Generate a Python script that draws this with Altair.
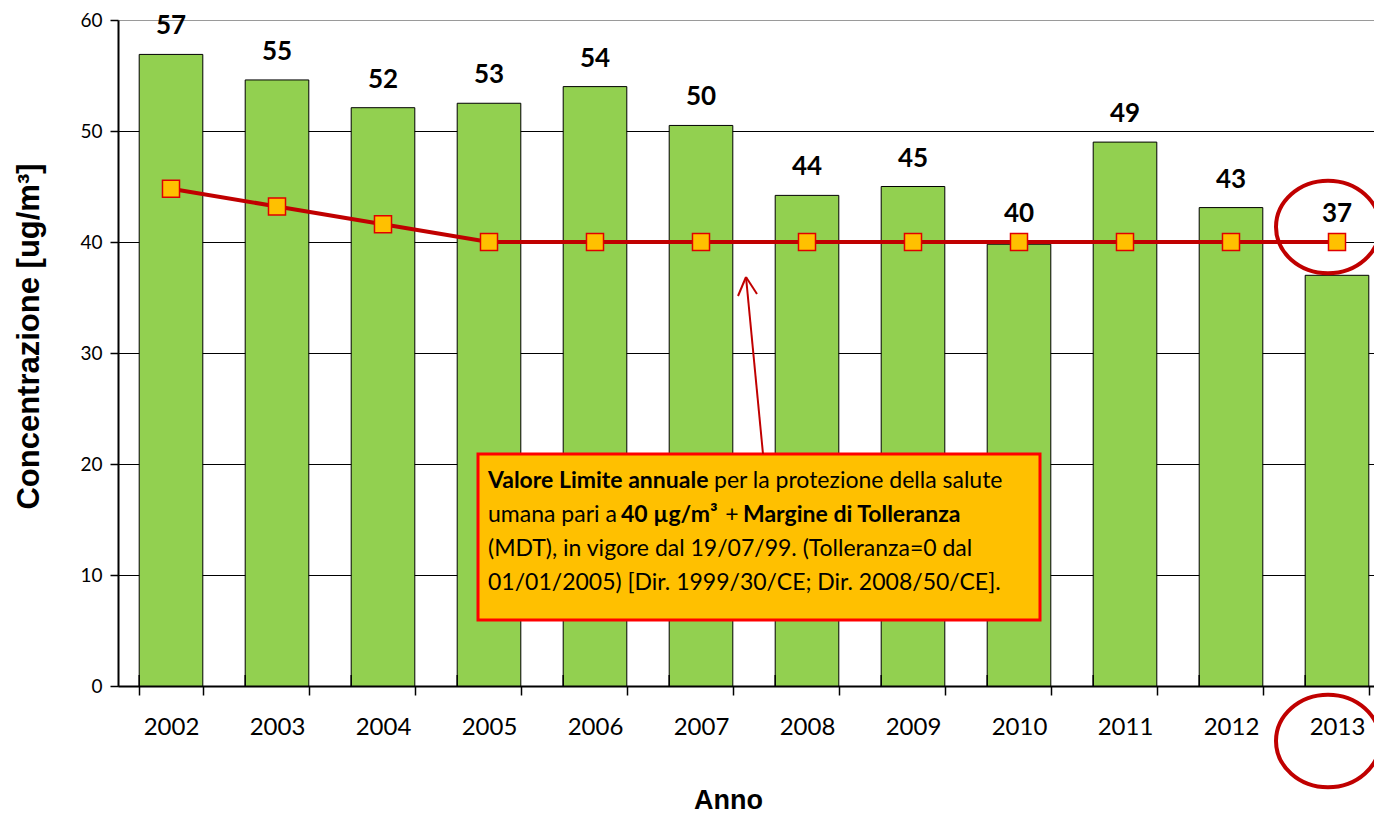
import altair as alt
import pandas as pd

# ---------------- data ----------------
years = ["2002", "2003", "2004", "2005", "2006", "2007",
         "2008", "2009", "2010", "2011", "2012", "2013"]
concentrations = [56.9, 54.6, 52.1, 52.5, 54.0, 50.5,
                  44.2, 45.0, 39.8, 49.0, 43.1, 37.0]
value_labels = ["57", "55", "52", "53", "54", "50",
                "44", "45", "40", "49", "43", "37"]
limit_values = [44.8, 43.2, 41.6, 40, 40, 40,
                40, 40, 40, 40, 40, 40]
y_ticks = [0, 10, 20, 30, 40, 50, 60]

df = pd.DataFrame({"Anno": years, "Conc": concentrations,
                   "Label": value_labels, "Limite": limit_values})
one = pd.DataFrame({"k": [0]})

W, H = 1256, 666
STEP_RANGE = [0, 1272]
GREEN = "#92D050"
ORANGE = "#FFC000"
DARKRED = "#C00000"
LABEL_FONT = "Lato"
TITLE_FONT = "Liberation Sans"

xscale = alt.Scale(domain=years, range=STEP_RANGE, paddingInner=0.4, paddingOuter=0.2)
yscale = alt.Scale(domain=[0, 60], nice=False)

x_axis = alt.Axis(
    title="Anno", labelAngle=0, labelFont=LABEL_FONT, labelFontSize=24,
    labelColor="black", labelPadding=20, tickBand="extent", tickSize=9,
    tickColor="black", tickWidth=1.5, domainColor="black", domainWidth=2,
    titleFont=TITLE_FONT, titleFontSize=27, titleFontWeight="bold",
    titleColor="black", titlePadding=48, titleX=610, grid=False,
)
y_axis = alt.Axis(
    title="Concentrazione [ug/m³]", values=y_ticks, labelFont=LABEL_FONT,
    labelFontSize=19, labelColor="black", labelPadding=8, tickSize=8,
    tickColor="black", tickWidth=1.5, domainColor="black", domainWidth=2,
    grid=True, gridWidth=1,
    gridColor=alt.condition(alt.datum.value == 60, alt.value("#9a9a9a"), alt.value("#000000")),
    titleFont=TITLE_FONT, titleFontSize=31, titleFontWeight="bold",
    titleColor="black", titlePadding=34, titleY=316,
)

base = alt.Chart(df)

bars = base.mark_bar(color=GREEN, stroke="black", strokeWidth=1).encode(
    x=alt.X("Anno:N", scale=xscale, axis=x_axis),
    y=alt.Y("Conc:Q", scale=yscale, axis=y_axis),
)

upticks = base.mark_rule(color="black", strokeWidth=1.5).encode(
    x=alt.X("Anno:N", scale=xscale, bandPosition=0),
    y=alt.value(H - 11), y2=alt.value(H),
)

labels = base.transform_calculate(
    ly="max(datum.Conc, datum.Limite)"
).mark_text(font=LABEL_FONT, fontSize=26, fontWeight="bold", color="black",
            baseline="middle", dy=-28).encode(
    x=alt.X("Anno:N", scale=xscale),
    y=alt.Y("ly:Q", scale=yscale),
    text="Label:N",
)

line = base.mark_line(color=DARKRED, strokeWidth=4).encode(
    x=alt.X("Anno:N", scale=xscale),
    y=alt.Y("Limite:Q", scale=yscale),
)
points = base.mark_point(shape="square", filled=True, fill=ORANGE, stroke="#E00000",
                         strokeWidth=1.5, size=290, opacity=1).encode(
    x=alt.X("Anno:N", scale=xscale),
    y=alt.Y("Limite:Q", scale=yscale),
)

# ---------------- annotation ----------------
ann = alt.Chart(one)
box = ann.mark_rect(fill=ORANGE, stroke="#FF0000", strokeWidth=3).encode(
    x=alt.value(360), x2=alt.value(922), y=alt.value(434), y2=alt.value(600))

def seg(text, x, y, bold=False, align="left"):
    return ann.mark_text(text=text, font=LABEL_FONT, fontSize=23,
                         fontWeight="bold" if bold else "normal", color="black",
                         align=align, baseline="middle").encode(
        x=alt.value(x), y=alt.value(y))

texts = [
    seg("Valore Limite annuale", 370, 461, True),
    seg("per la protezione della salute", 596, 461),
    seg("umana pari a", 370, 495),
    seg("40 µg/m³", 503, 495, True),
    seg("+", 614, 495, False, "center"),
    seg("Margine di Tolleranza", 625, 495, True),
    seg("(MDT), in vigore dal 19/07/99. (Tolleranza=0 dal", 370, 529),
    seg("01/01/2005) [Dir. 1999/30/CE; Dir. 2008/50/CE].", 370, 563),
]

arrow_shaft = ann.mark_rule(color=DARKRED, strokeWidth=2).encode(
    x=alt.value(645), y=alt.value(434), x2=alt.value(628), y2=alt.value(257))
arrow_l = ann.mark_rule(color=DARKRED, strokeWidth=2).encode(
    x=alt.value(628), y=alt.value(257), x2=alt.value(620), y2=alt.value(276))
arrow_r = ann.mark_rule(color=DARKRED, strokeWidth=2).encode(
    x=alt.value(628), y=alt.value(257), x2=alt.value(639), y2=alt.value(274))

ELLIPSE = "M -1 0 A 1 0.89 0 1 0 1 0 A 1 0.89 0 1 0 -1 0 Z"
ell_top = ann.mark_point(shape=ELLIPSE, filled=False, stroke=DARKRED, strokeWidth=4,
                         size=10816, opacity=1).encode(x=alt.value(1210), y=alt.value(207))
ell_bot = ann.mark_point(shape=ELLIPSE, filled=False, stroke=DARKRED, strokeWidth=4,
                         size=10816, opacity=1).encode(x=alt.value(1210), y=alt.value(721))

chart = alt.layer(
    bars, upticks, line, points, labels, box, *texts,
    arrow_shaft, arrow_l, arrow_r, ell_top, ell_bot,
).properties(
    width=W, height=H,
    autosize=alt.AutoSizeParams(type="none"),
    padding={"left": 110, "top": 12, "right": 0, "bottom": 130},
).configure_view(stroke=None).configure(background="white")

chart.save("out.html", embed_options={"renderer": "svg", "actions": False})
